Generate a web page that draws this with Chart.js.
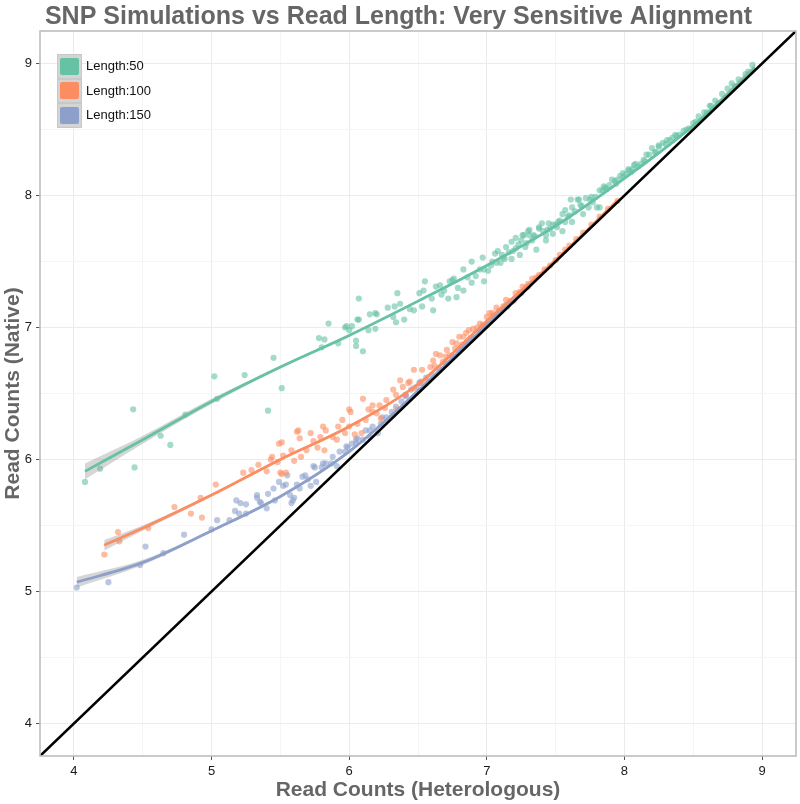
<!DOCTYPE html>
<html>
<head>
<meta charset="utf-8">
<title>SNP Simulations vs Read Length</title>
<script src="https://cdn.jsdelivr.net/npm/chart.js@4.4.1/dist/chart.umd.min.js"></script>
<style>
  html, body { margin: 0; padding: 0; background: #fff; }
  #wrap { position: relative; width: 800px; height: 804px; }
  #legend { position: absolute; left: 57px; top: 54px; font: 13px "Liberation Sans", Arial, Helvetica, sans-serif; color: #111; }
  .row { position: relative; height: 24.5px; }
  .key { position: absolute; left: 0; top: 0; width: 25px; height: 24.5px; background: #d4d4d4; box-sizing: border-box; border: 1px solid #c8c8c8; }
  .key span { position: absolute; left: 2px; top: 2.5px; width: 19px; height: 17px; border-radius: 2px; }
  .lab { position: absolute; left: 29px; top: 4px; white-space: nowrap; }
</style>
</head>
<body>
<div id="wrap">
  <canvas id="chart" width="800" height="804"></canvas>
  <div id="legend"></div>
</div>
<script>
// read counts, Length:50
const len50X = [4.08, 4.19, 4.43, 4.44, 4.63, 4.70, 4.81, 5.02, 5.04, 5.24, 5.41, 5.45, 5.51,
  5.78, 5.80, 5.82, 5.85, 5.92, 5.97, 5.98, 6.00, 6.02, 6.05, 6.05, 6.06, 6.07, 6.07, 6.10,
  6.14, 6.15, 6.19, 6.19, 6.20, 6.28, 6.32, 6.33, 6.34, 6.35, 6.37, 6.40, 6.44, 6.47, 6.51,
  6.53, 6.54, 6.55, 6.60, 6.61, 6.63, 6.66, 6.67, 6.69, 6.72, 6.73, 6.75, 6.76, 6.78, 6.79,
  6.83, 6.83, 6.86, 6.89, 6.89, 6.92, 6.95, 6.97, 6.98, 6.98, 7.01, 7.03, 7.06, 7.07, 7.08,
  7.10, 7.11, 7.13, 7.14, 7.16, 7.18, 7.18, 7.21, 7.21, 7.23, 7.24, 7.25, 7.26, 7.27, 7.28,
  7.30, 7.31, 7.31, 7.33, 7.35, 7.36, 7.38, 7.38, 7.40, 7.41, 7.43, 7.43, 7.45, 7.46, 7.48,
  7.48, 7.50, 7.51, 7.53, 7.55, 7.55, 7.57, 7.57, 7.59, 7.61, 7.62, 7.62, 7.64, 7.66, 7.67,
  7.69, 7.70, 7.72, 7.74, 7.75, 7.77, 7.79, 7.80, 7.82, 7.82, 7.84, 7.85, 7.87, 7.89, 7.91,
  7.93, 7.94, 7.97, 7.99, 7.99, 8.01, 8.03, 8.03, 8.05, 8.07, 8.08, 8.10, 8.12, 8.14, 8.16,
  8.18, 8.20, 8.22, 8.25, 8.25, 8.28, 8.31, 8.33, 8.35, 8.37, 8.40, 8.43, 8.47, 8.50, 8.54,
  8.58, 8.62, 8.63, 8.66, 8.71, 8.75, 8.78, 8.83, 8.88, 8.93,
  7.04, 7.12, 7.19, 7.29, 7.34, 7.44, 7.52, 7.60, 7.68, 7.76, 7.86, 7.95, 8.06, 8.15, 8.23,
  8.30, 8.38, 8.45, 8.52, 8.60, 8.68, 8.80, 8.90];
const len50Y = [5.83, 5.93, 6.38, 5.94, 6.18, 6.11, 6.34, 6.63, 6.46, 6.64, 6.37, 6.77, 6.54,
  6.92, 6.85, 6.91, 7.03, 6.88, 7.00, 7.01, 6.98, 7.01, 6.90, 6.86, 7.06, 7.06, 7.22, 6.82,
  6.98, 7.10, 7.11, 6.99, 7.10, 7.15, 7.08, 7.16, 7.04, 7.26, 7.18, 7.06, 7.14, 7.13, 7.26,
  7.16, 7.28, 7.35, 7.22, 7.13, 7.31, 7.32, 7.25, 7.28, 7.22, 7.35, 7.36, 7.37, 7.23, 7.30,
  7.28, 7.44, 7.38, 7.50, 7.34, 7.39, 7.44, 7.53, 7.44, 7.35, 7.43, 7.47, 7.56, 7.49, 7.58,
  7.49, 7.55, 7.52, 7.61, 7.57, 7.52, 7.65, 7.60, 7.68, 7.63, 7.55, 7.66, 7.70, 7.70, 7.61,
  7.73, 7.70, 7.74, 7.66, 7.69, 7.59, 7.75, 7.76, 7.79, 7.73, 7.66, 7.70, 7.79, 7.75, 7.71,
  7.78, 7.78, 7.76, 7.81, 7.73, 7.86, 7.80, 7.89, 7.84, 7.97, 7.80, 7.91, 7.88, 7.97, 7.97,
  7.92, 7.86, 7.98, 7.91, 7.97, 7.95, 7.99, 7.91, 7.91, 8.04, 8.04, 8.07, 8.05, 8.08, 8.12,
  8.11, 8.09, 8.15, 8.14, 8.17, 8.16, 8.19, 8.20, 8.18, 8.23, 8.24, 8.22, 8.24, 8.27, 8.31,
  8.31, 8.36, 8.33, 8.37, 8.38, 8.40, 8.42, 8.42, 8.44, 8.46, 8.46, 8.49, 8.51, 8.55, 8.60,
  8.63, 8.68, 8.68, 8.72, 8.77, 8.81, 8.85, 8.88, 8.92, 8.99,
  7.50, 7.53, 7.58, 7.64, 7.70, 7.74, 7.80, 7.85, 7.93, 7.99, 8.06, 8.12, 8.20, 8.26, 8.33,
  8.39, 8.45, 8.50, 8.56, 8.63, 8.70, 8.83, 8.94];

// read counts, Length:100
const len100X = [4.22, 4.32, 4.33, 4.54, 4.73, 4.85, 4.92, 4.93, 5.03, 5.23, 5.29, 5.34, 5.40,
  5.43, 5.44, 5.48, 5.49, 5.50, 5.51, 5.51, 5.52, 5.54, 5.58, 5.60, 5.62, 5.63, 5.64, 5.65,
  5.69, 5.72, 5.74, 5.77, 5.79, 5.81, 5.82, 5.83, 5.88, 5.91, 5.92, 5.95, 5.97, 6.00, 6.00,
  6.01, 6.04, 6.06, 6.09, 6.10, 6.12, 6.14, 6.17, 6.17, 6.20, 6.22, 6.23, 6.26, 6.27, 6.32,
  6.34, 6.35, 6.37, 6.39, 6.41, 6.43, 6.44, 6.47, 6.47, 6.52, 6.53, 6.56, 6.59, 6.61, 6.63,
  6.66, 6.68, 6.71, 6.73, 6.75, 6.78, 6.80, 6.83, 6.85, 6.87, 6.90, 6.93, 6.95, 7.00, 7.02,
  7.04, 7.07, 7.09, 7.12, 7.14, 7.14, 7.19, 7.21, 7.24, 7.26, 7.30, 7.33, 7.36, 7.38, 7.42,
  7.46, 7.50, 7.53, 7.57, 7.60, 7.65, 7.70, 7.76, 7.82, 7.88, 7.95,
  6.62, 6.70, 6.77, 6.82, 6.88, 6.97, 7.05, 7.17, 7.28];
const len100Y = [5.28, 5.45, 5.38, 5.48, 5.64, 5.59, 5.71, 5.56, 5.81, 5.90, 5.92, 5.96, 5.91,
  6.00, 6.02, 5.98, 6.12, 5.90, 6.13, 5.89, 6.03, 5.90, 6.07, 5.99, 6.21, 6.22, 6.16, 6.02,
  6.07, 6.20, 6.14, 6.09, 6.17, 6.25, 6.07, 6.22, 6.17, 6.15, 6.25, 6.30, 6.20, 6.25, 6.38,
  6.36, 6.19, 6.27, 6.20, 6.46, 6.30, 6.38, 6.41, 6.36, 6.35, 6.41, 6.31, 6.39, 6.45, 6.53,
  6.49, 6.38, 6.60, 6.55, 6.49, 6.58, 6.59, 6.54, 6.68, 6.58, 6.68, 6.60, 6.70, 6.75, 6.80,
  6.79, 6.74, 6.83, 6.79, 6.89, 6.88, 6.93, 6.93, 6.96, 6.98, 6.99, 7.00, 7.03, 7.08, 7.11,
  7.11, 7.15, 7.13, 7.16, 7.17, 7.21, 7.20, 7.26, 7.27, 7.31, 7.33, 7.37, 7.38, 7.40, 7.44,
  7.47, 7.51, 7.55, 7.59, 7.62, 7.67, 7.72, 7.78, 7.84, 7.90, 7.96,
  6.71, 6.78, 6.84, 6.87, 6.92, 7.02, 7.09, 7.20, 7.30];

// read counts, Length:150
const len150X = [4.02, 4.25, 4.48, 4.52, 4.65, 4.80, 5.00, 5.04, 5.13, 5.17, 5.18, 5.20, 5.21,
  5.25, 5.25, 5.33, 5.33, 5.35, 5.36, 5.40, 5.41, 5.45, 5.46, 5.49, 5.52, 5.54, 5.55, 5.57,
  5.58, 5.59, 5.60, 5.62, 5.64, 5.66, 5.68, 5.70, 5.72, 5.74, 5.75, 5.76, 5.80, 5.81, 5.83,
  5.87, 5.88, 5.91, 5.93, 5.97, 5.98, 5.99, 6.02, 6.05, 6.05, 6.06, 6.10, 6.12, 6.15, 6.15,
  6.17, 6.21, 6.23, 6.24, 6.27, 6.31, 6.34, 6.38, 6.41, 6.41, 6.45, 6.49, 6.51, 6.52, 6.56,
  6.60, 6.65, 6.70, 6.75, 6.80, 6.85, 6.90, 6.95, 7.00, 7.05, 7.10, 7.15, 7.20, 7.25, 7.30];
const len150Y = [5.03, 5.07, 5.20, 5.34, 5.29, 5.43, 5.47, 5.54, 5.54, 5.61, 5.69, 5.59, 5.67,
  5.59, 5.66, 5.73, 5.71, 5.68, 5.67, 5.63, 5.74, 5.78, 5.69, 5.83, 5.80, 5.81, 5.88, 5.73,
  5.67, 5.69, 5.71, 5.81, 5.78, 5.87, 5.88, 5.85, 5.80, 5.95, 5.94, 5.83, 5.94, 5.97, 5.97,
  5.97, 6.02, 5.95, 6.06, 6.06, 6.10, 6.09, 6.12, 6.12, 6.15, 6.16, 6.15, 6.22, 6.17, 6.22,
  6.25, 6.20, 6.27, 6.32, 6.32, 6.36, 6.40, 6.44, 6.49, 6.48, 6.53, 6.55, 6.58, 6.59, 6.62,
  6.64, 6.69, 6.73, 6.78, 6.83, 6.88, 6.92, 6.97, 7.02, 7.07, 7.12, 7.16, 7.21, 7.26, 7.31];

// smoothed fits with their confidence band
const fit50X  = [4.08, 4.50, 5.00, 5.50, 6.00, 6.50, 7.00, 7.50, 8.00, 8.50, 8.95];
const fit50Y  = [5.91, 6.15, 6.44, 6.70, 6.94, 7.20, 7.47, 7.77, 8.13, 8.53, 8.97];
const fit50Lo = [5.85, 6.12, 6.42, 6.69, 6.93, 7.19, 7.46, 7.76, 8.12, 8.52, 8.94];
const fit50Hi = [5.97, 6.18, 6.46, 6.71, 6.95, 7.21, 7.48, 7.78, 8.14, 8.54, 9.00];

const fit100X  = [4.22, 4.50, 5.00, 5.50, 6.00, 6.50, 7.00, 7.50, 7.95];
const fit100Y  = [5.35, 5.48, 5.73, 6.00, 6.25, 6.57, 7.05, 7.51, 7.96];
const fit100Lo = [5.31, 5.46, 5.72, 5.99, 6.24, 6.56, 7.04, 7.50, 7.94];
const fit100Hi = [5.39, 5.50, 5.74, 6.01, 6.26, 6.58, 7.06, 7.52, 7.98];

const fit150X  = [4.02, 4.50, 5.00, 5.50, 6.00, 6.50, 7.00, 7.30];
const fit150Y  = [5.07, 5.22, 5.46, 5.72, 6.06, 6.52, 7.02, 7.31];
const fit150Lo = [5.03, 5.20, 5.45, 5.71, 6.05, 6.51, 7.01, 7.29];
const fit150Hi = [5.11, 5.24, 5.47, 5.73, 6.07, 6.53, 7.03, 7.33];

// y = x reference line
const refLine = [3.5, 9.5];

const seriesNames = ['Length:50', 'Length:100', 'Length:150'];
const seriesColors = ['#66c2a5', '#fc8d62', '#8da0cb'];
const pointColors = ['rgba(102,194,165,0.6)', 'rgba(252,141,98,0.6)', 'rgba(141,160,203,0.6)'];

const axisMin = 3.753, axisMax = 9.247;

function pts(xs, ys) {
  return xs.map((x, i) => ({ x: x, y: ys[i] }));
}

const FONT = '"Liberation Sans", Arial, Helvetica, sans-serif';
const band = 'rgba(153,153,153,0.4)';

function lineSet(xs, ys, color) {
  return { type: 'line', data: pts(xs, ys), borderColor: color, borderWidth: 2.8,
    pointRadius: 0, fill: false, tension: 0.4, cubicInterpolationMode: 'monotone' };
}
function bandSet(xs, ys, fillTo) {
  return { type: 'line', data: pts(xs, ys), borderWidth: 0, borderColor: 'rgba(0,0,0,0)',
    pointRadius: 0, backgroundColor: band, fill: fillTo, tension: 0.4, cubicInterpolationMode: 'monotone' };
}
function scatterSet(xs, ys, color) {
  return { type: 'scatter', data: pts(xs, ys), backgroundColor: color, borderWidth: 0, pointRadius: 3.1 };
}

// first dataset is drawn on top
const datasets = [
  { type: 'line', data: pts(refLine, refLine), borderColor: '#000', borderWidth: 2.6, pointRadius: 0, fill: false },
  lineSet(fit50X, fit50Y, seriesColors[0]),
  lineSet(fit100X, fit100Y, seriesColors[1]),
  lineSet(fit150X, fit150Y, seriesColors[2]),
  bandSet(fit50X, fit50Hi, '+1'), bandSet(fit50X, fit50Lo, false),
  bandSet(fit100X, fit100Hi, '+1'), bandSet(fit100X, fit100Lo, false),
  bandSet(fit150X, fit150Hi, '+1'), bandSet(fit150X, fit150Lo, false),
  scatterSet(len100X, len100Y, pointColors[1]),
  scatterSet(len150X, len150Y, pointColors[2]),
  scatterSet(len50X, len50Y, pointColors[0])
];

const isMajor = v => Math.abs(v - Math.round(v)) < 1e-6;

function axis(title, fit, pad) {
  return {
    type: 'linear', min: axisMin, max: axisMax,
    afterFit: fit,
    border: { display: false },
    grid: {
      color: c => isMajor(c.tick.value) ? '#ebebeb' : '#f5f5f5',
      lineWidth: 1,
      tickLength: 4,
      tickColor: c => isMajor(c.tick.value) ? '#555' : 'rgba(0,0,0,0)'
    },
    ticks: {
      stepSize: 0.5, includeBounds: false, padding: 4, color: '#1a1a1a',
      font: { family: FONT, size: 13 },
      callback: v => isMajor(v) ? Math.round(v) : ''
    },
    title: { display: true, text: title, color: '#666', padding: pad,
      font: { family: FONT, size: 21, weight: 'bold' } }
  };
}

const frame = {
  id: 'frame',
  afterDraw(chart) {
    const a = chart.chartArea, ctx = chart.ctx;
    ctx.save();
    ctx.strokeStyle = '#bdbdbd';
    ctx.lineWidth = 1.6;
    ctx.strokeRect(a.left, a.top, a.right - a.left, a.bottom - a.top);
    ctx.restore();
  }
};

new Chart(document.getElementById('chart'), {
  data: { datasets: datasets },
  options: {
    responsive: false,
    animation: false,
    events: [],
    layout: { padding: { left: 0, right: 3, top: 0, bottom: 0 } },
    plugins: {
      legend: { display: false },
      tooltip: { enabled: false },
      title: {
        display: true,
        text: 'SNP Simulations vs Read Length: Very Sensitive Alignment',
        color: '#666',
        font: { family: FONT, size: 25, weight: 'bold', lineHeight: 1.12 },
        padding: { top: 3, bottom: 0 }
      }
    },
    scales: {
      x: axis('Read Counts (Heterologous)', s => { s.height = 48; }, { top: 0, bottom: 1 }),
      y: axis('Read Counts (Native)', s => { s.width = 40; }, { top: 1, bottom: 0 })
    }
  },
  plugins: [frame]
});

// legend keys
const legend = document.getElementById('legend');
seriesNames.forEach((name, i) => {
  const row = document.createElement('div');
  row.className = 'row';
  row.innerHTML = '<div class="key"><span style="background:' + seriesColors[i] +
    '"></span></div><div class="lab">' + name + '</div>';
  legend.appendChild(row);
});
</script>
</body>
</html>
